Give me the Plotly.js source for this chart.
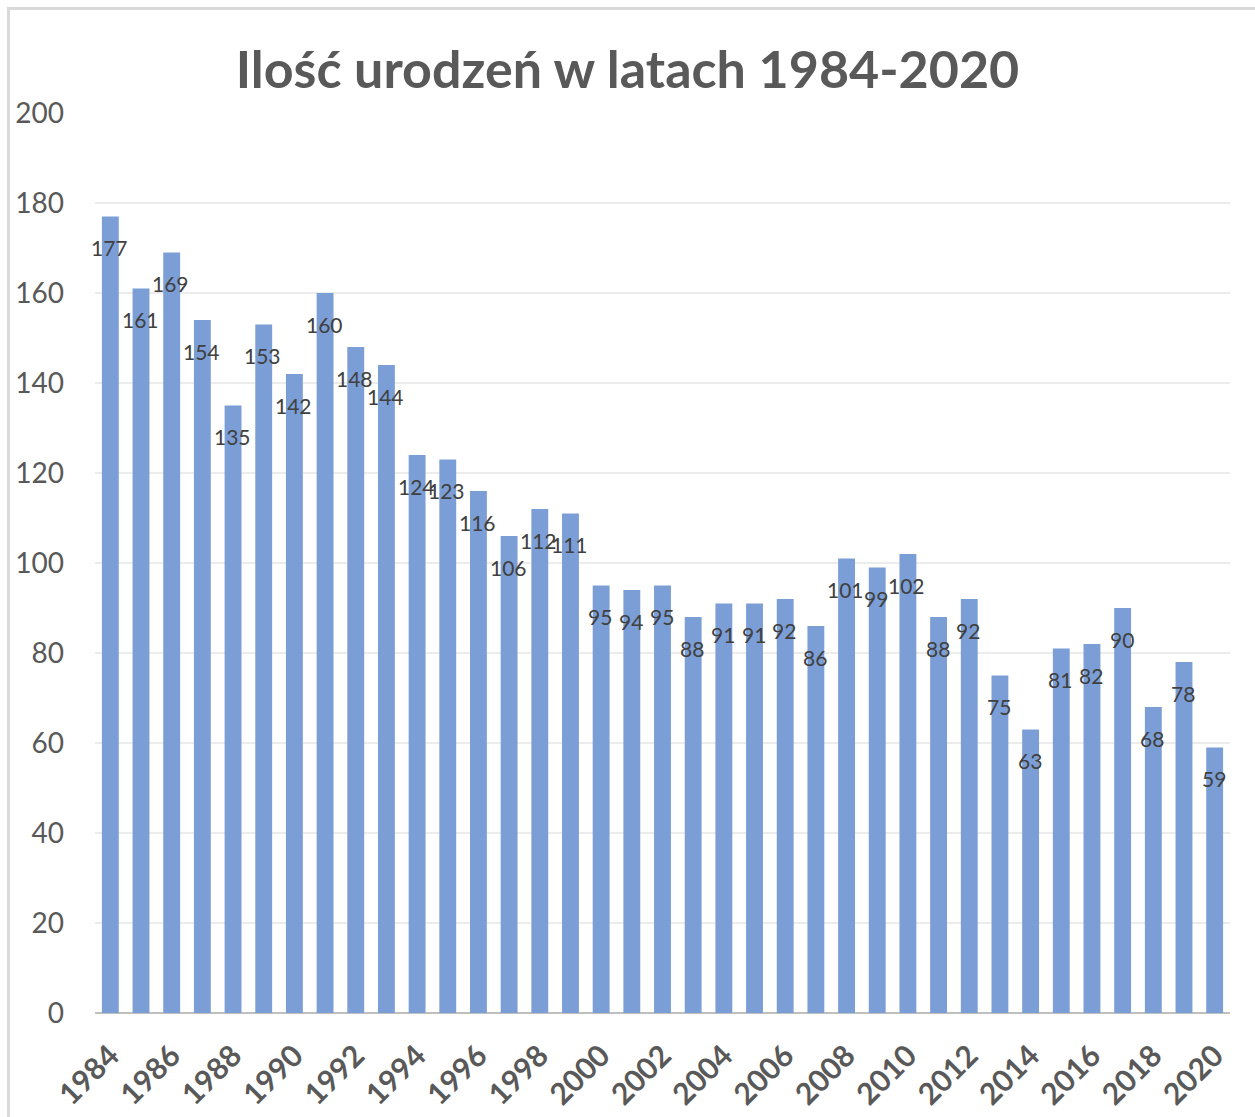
<!DOCTYPE html>
<html>
<head>
<meta charset="utf-8">
<script src="https://cdn.plot.ly/plotly-3.0.1.min.js"></script>
<style>
  html, body { margin: 0; padding: 0; background: #ffffff; }
  #frame { position: absolute; left: 7px; top: 7px; width: 1260px; height: 1120px;
           border-left: 3px solid #d9d9d9; border-top: 3px solid #d9d9d9; pointer-events: none; }
  #chart { position: absolute; left: 0; top: 0; width: 1255px; height: 1117px; }
</style>
</head>
<body>
<div id="frame"></div>
<div id="chart"></div>
<script>
const years = ["1984","1985","1986","1987","1988","1989","1990","1991","1992","1993",
  "1994","1995","1996","1997","1998","1999","2000","2001","2002","2003","2004","2005",
  "2006","2007","2008","2009","2010","2011","2012","2013","2014","2015","2016","2017",
  "2018","2019","2020"];
const births = [177,161,169,154,135,153,142,160,148,144,124,123,116,106,112,111,95,94,95,
  88,91,91,92,86,101,99,102,88,92,75,63,81,82,90,68,78,59];
const tickYears = ["1984","1986","1988","1990","1992","1994","1996","1998","2000","2002",
  "2004","2006","2008","2010","2012","2014","2016","2018","2020"];
const titleText = "Ilość urodzeń w latach 1984-2020";

const trace = {
  type: "bar",
  x: years,
  y: births,
  marker: { color: "rgb(123,158,214)", line: { width: 0 } },
  hoverinfo: "x+y"
};

// On a category axis, annotation x is the category's serial index
const annotations = years.map((yr, i) => ({
  x: years.indexOf(yr), y: births[i], xref: "x", yref: "y",
  text: String(births[i]), showarrow: false,
  yanchor: "middle", xanchor: "center", yshift: -31, xshift: -1,
  font: { family: "Lato, 'Open Sans', sans-serif", size: 21, color: "#404040" }
}));

const layout = {
  width: 1255, height: 1117,
  paper_bgcolor: "rgba(0,0,0,0)", plot_bgcolor: "rgba(0,0,0,0)",
  margin: { l: 95, r: 25, t: 113, b: 104 },
  bargap: 0.45,
  showlegend: false,
  title: {
    text: titleText, xref: "container", x: 0.5, xanchor: "center",
    yref: "container", y: 1 - 70 / 1117, yanchor: "middle",
    font: { family: "Lato, 'Open Sans', sans-serif", size: 52, color: "#595959", weight: "bold" }
  },
  xaxis: {
    type: "category", range: [-0.5, 36.5],
    tickmode: "array", tickvals: tickYears, ticktext: tickYears,
    tickangle: -45, showgrid: false, ticks: "", ticklabelstandoff: 18,
    tickfont: { family: "Lato, 'Open Sans', sans-serif", size: 30, color: "#595959", weight: "bold" },
    showline: false, zeroline: false
  },
  yaxis: {
    range: [0, 200], dtick: 20, tick0: 0,
    showgrid: true, gridcolor: "#ececec", gridwidth: 1.5,
    zeroline: true, zerolinecolor: "#bfbfbf", zerolinewidth: 2.5,
    ticks: "", ticklabelstandoff: 30,
    tickfont: { family: "Lato, 'Open Sans', sans-serif", size: 28, color: "#595959" },
    showline: false
  },
  annotations: annotations
};

Plotly.newPlot("chart", [trace], layout, { displayModeBar: false, staticPlot: true });
</script>
</body>
</html>
